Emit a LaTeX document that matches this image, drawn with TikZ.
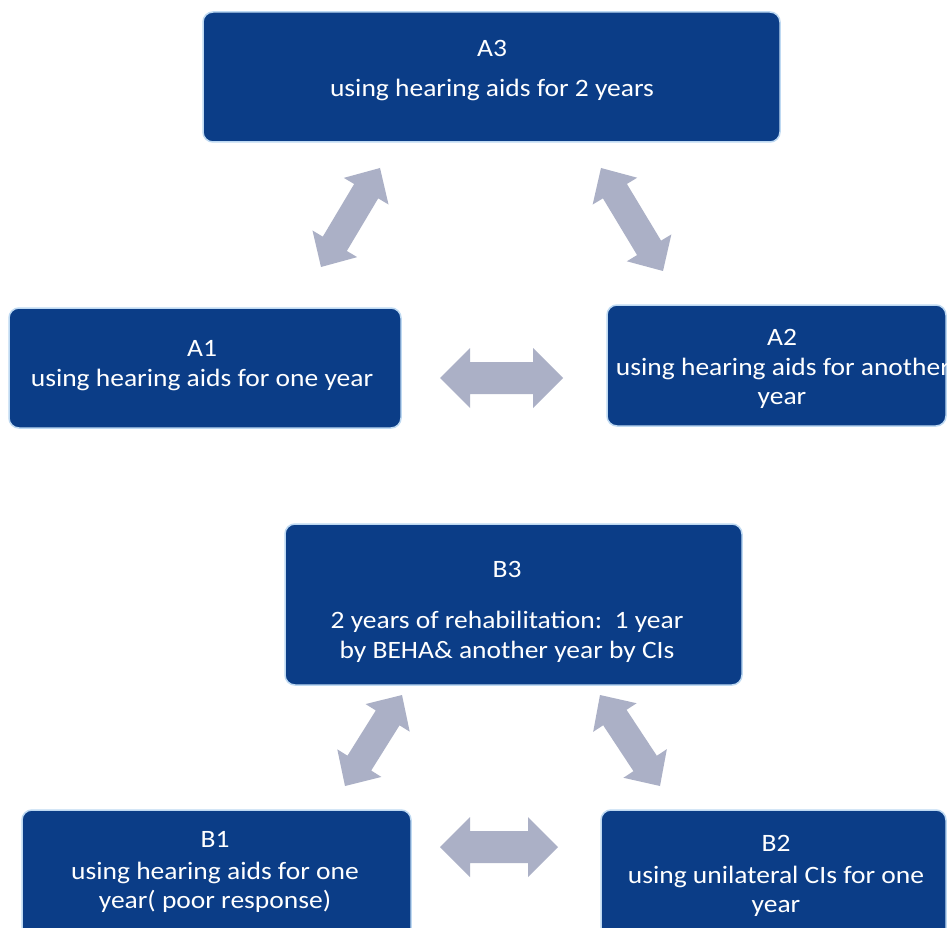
\documentclass[tikz,border=0pt]{standalone}
\usepackage{fontspec}
\setmainfont[FakeStretch=1.1]{Carlito}
\usetikzlibrary{calc}
\definecolor{boxblue}{RGB}{11,61,135}
\definecolor{boxedge}{RGB}{190,217,242}
\definecolor{arrowgray}{RGB}{171,176,198}
\tikzset{
  box/.style={draw=boxedge, line width=1.5pt, fill=boxblue, rounded corners=10pt, inner sep=0pt},
  lbl/.style={text=white, font=\fontsize{25}{30}\selectfont, anchor=base, inner sep=0pt},
  arrowfill/.style={fill=arrowgray}
}
% #1 tip a, #2 tip b, #3 head length, #4 head half width, #5 shaft half width
\newcommand\blockdbl[5]{%
  \fill[arrowfill] (#1)
    -- ($(#1)!#3!(#2)!#4!90:(#2)$)
    -- ($(#1)!#3!(#2)!#5!90:(#2)$)
    -- ($(#2)!#3!(#1)!#5!-90:(#1)$)
    -- ($(#2)!#3!(#1)!#4!-90:(#1)$)
    -- (#2)
    -- ($(#2)!#3!(#1)!#4!90:(#1)$)
    -- ($(#2)!#3!(#1)!#5!90:(#1)$)
    -- ($(#1)!#3!(#2)!#5!-90:(#2)$)
    -- ($(#1)!#3!(#2)!#4!-90:(#2)$)
    -- cycle;}
\begin{document}
\begin{tikzpicture}[x=1pt,y=-1pt]
\clip (0,0) rectangle (948,928);
\fill[white] (0,0) rectangle (948,928);
% boxes
\node[box, minimum width=577pt, minimum height=130pt] (A3) at (491.5,77) {};
\node[box, minimum width=392pt, minimum height=120pt] (A1) at (205,368) {};
\node[box, minimum width=339pt, minimum height=121pt] (A2) at (776.5,365.5) {};
\node[box, minimum width=457pt, minimum height=161pt] (B3) at (513.5,604.5) {};
\node[box, minimum width=389pt, minimum height=160pt] (B1) at (216.5,890) {};
\node[box, minimum width=345pt, minimum height=160pt] (B2) at (773.5,890) {};
% texts
\node[lbl] (A3a) at (492,57) {A3};
\node[lbl] (A3b) at (492,97) {using hearing aids for 2 years};
\node[lbl] (A1a) at (202,356) {A1};
\node[lbl] (A1b) at (202,386) {using hearing aids for one year};
\node[lbl] (A2a) at (782,345) {A2};
\node[lbl] (A2b) at (783,375) {using hearing aids for another};
\node[lbl] (A2c) at (782,404) {year};
\node[lbl] (B3a) at (507,577) {B3};
\node[lbl] (B3b) at (507,628) {2 years of rehabilitation:\ \ 1 year};
\node[lbl] (B3c) at (507,658) {by BEHA\& another year by CIs};
\node[lbl] (B1a) at (215,847) {B1};
\node[lbl] (B1b) at (215,879) {using hearing aids for one};
\node[lbl] (B1c) at (215,908) {year( poor response)};
\node[lbl] (B2a) at (776,851) {B2};
\node[lbl] (B2b) at (776,883) {using unilateral CIs for one};
\node[lbl] (B2c) at (776,912) {year};
% arrow end points
\coordinate (ta1) at (321,267); \coordinate (ta3l) at (380,168);
\coordinate (ta3r) at (601,168); \coordinate (ta2) at (663,271);
\coordinate (ha1) at (440,378); \coordinate (ha2) at (563,378);
\coordinate (tb1) at (345,786); \coordinate (tb3l) at (402,695);
\coordinate (tb3r) at (600,695); \coordinate (tb2) at (660,786);
\coordinate (hb1) at (440,847); \coordinate (hb2) at (558,847);
% arrows
\blockdbl{ta1}{ta3l}{27pt}{26pt}{14pt}
\blockdbl{ta3r}{ta2}{27pt}{26pt}{14pt}
\blockdbl{ha1}{ha2}{30pt}{30pt}{16pt}
\blockdbl{tb1}{tb3l}{27pt}{26pt}{14pt}
\blockdbl{tb3r}{tb2}{27pt}{26pt}{14pt}
\blockdbl{hb1}{hb2}{30pt}{30pt}{16pt}
\end{tikzpicture}
\end{document}
